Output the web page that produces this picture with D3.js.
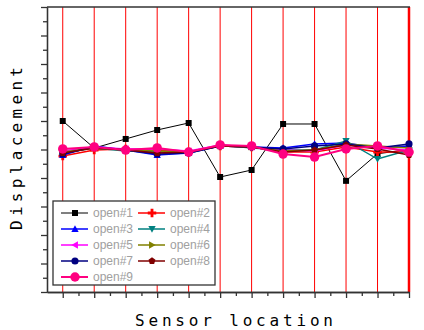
<!DOCTYPE html>
<html>
<head>
<meta charset="utf-8">
<script src="https://cdn.jsdelivr.net/npm/d3@7"></script>
<style>
  html, body { margin: 0; padding: 0; background: #fff; }
  svg { display: block; }
</style>
</head>
<body>
<div id="chart"></div>
<script>
// sensor positions along the x axis
var sensors = [1, 2, 3, 4, 5, 6, 7, 8, 9, 10, 11, 12];

// displacement per sensor, one list per opening
var open1 = [2.0, 0.1, 0.74, 1.37, 1.86, -1.93, -1.44, 1.79, 1.79, -2.2, -0.3, 0.0];
var open2 = [-0.46, -0.04, 0.04, -0.04, -0.18, 0.25, 0.18, -0.18, -0.18, 0.18, -0.18, -0.18];
var open3 = [-0.39, 0.25, -0.04, -0.39, -0.25, 0.25, 0.18, 0.11, 0.39, 0.46, 0.11, 0.25];
var open4 = [-0.25, 0.11, -0.11, -0.18, -0.25, 0.32, 0.11, -0.04, -0.04, 0.6, -0.67, -0.04];
var open5 = [-0.11, 0.18, 0.04, 0.04, -0.11, 0.32, 0.18, -0.04, -0.11, 0.32, 0.11, -0.04];
var open6 = [-0.18, 0.11, -0.04, -0.11, -0.18, 0.25, 0.18, -0.11, -0.04, 0.39, 0.25, 0.11];
var open7 = [-0.32, 0.18, -0.04, -0.32, -0.25, 0.25, 0.18, 0.04, 0.25, 0.39, 0.11, 0.39];
var open8 = [-0.25, 0.11, -0.04, -0.25, -0.18, 0.25, 0.18, -0.18, -0.04, 0.32, 0.04, -0.39];
var open9 = [0.04, 0.18, -0.04, 0.11, -0.18, 0.32, 0.25, -0.32, -0.53, 0.04, 0.25, -0.18];

var seriesNames = ['open#1', 'open#2', 'open#3', 'open#4', 'open#5', 'open#6', 'open#7', 'open#8', 'open#9'];
var seriesValues = [open1, open2, open3, open4, open5, open6, open7, open8, open9];

var styles = [
  { color: '#000000', shape: 'square', size: 36, width: 1 },
  { color: '#ff0000', shape: 'star', size: 40, width: 1.5 },
  { color: '#0000ff', shape: 'triUp', size: 40, width: 1.5 },
  { color: '#008080', shape: 'triDown', size: 40, width: 1.5 },
  { color: '#ff00ff', shape: 'triLeft', size: 40, width: 1.5 },
  { color: '#808000', shape: 'triRight', size: 40, width: 1.5 },
  { color: '#000080', shape: 'circle', size: 40, width: 1.5 },
  { color: '#800000', shape: 'pentagon', size: 40, width: 1.5 },
  { color: '#ff0080', shape: 'circle', size: 70, width: 2 }
];

(function() {
  var W = 424, H = 330;
  var plotLeft = 47, plotRight = 409, plotTop = 7, plotBottom = 292;

  var svg = d3.select('#chart').append('svg').attr('width', W).attr('height', H);

  var x = d3.scaleLinear().domain([0.5, 12]).range([plotLeft, plotRight]);
  var y = d3.scaleLinear().domain([-10, 10]).range([plotBottom, plotTop]);

  function markerPath(shape, size) {
    var r = Math.sqrt(size) / 2 + 0.5;
    var pts;
    if (shape === 'square') return d3.symbol(d3.symbolSquare, size)();
    if (shape === 'circle') return d3.symbol(d3.symbolCircle, size)();
    if (shape === 'star') return d3.symbol(d3.symbolCross, size)();
    if (shape === 'triUp') pts = [[0, -r], [r, r * 0.8], [-r, r * 0.8]];
    if (shape === 'triDown') pts = [[0, r], [r, -r * 0.8], [-r, -r * 0.8]];
    if (shape === 'triLeft') pts = [[-r, 0], [r * 0.8, -r], [r * 0.8, r]];
    if (shape === 'triRight') pts = [[r, 0], [-r * 0.8, -r], [-r * 0.8, r]];
    if (shape === 'pentagon') {
      pts = d3.range(5).map(function(i) {
        var a = -Math.PI / 2 + i * 2 * Math.PI / 5;
        return [r * Math.cos(a), r * Math.sin(a)];
      });
    }
    return 'M' + pts.map(function(p) { return p.join(','); }).join('L') + 'Z';
  }

  // red vertical guide lines at each sensor
  svg.append('g').selectAll('line').data(sensors).enter().append('line')
    .attr('x1', function(d) { return x(d); })
    .attr('x2', function(d) { return x(d); })
    .attr('y1', plotTop).attr('y2', plotBottom)
    .attr('stroke', '#ff0000')
    .attr('stroke-width', function(d) { return d === 12 ? 2.5 : 1; });

  // top frame line
  svg.append('line').attr('x1', plotLeft).attr('x2', plotRight + 1).attr('y1', plotTop).attr('y2', plotTop)
    .attr('stroke', '#333').attr('stroke-width', 1.5);

  // left axis: alternate long and short ticks, no labels
  var yMajor = d3.range(-10, 11, 2), yMinor = d3.range(-9, 10, 2);
  svg.append('g').attr('class', 'ax').attr('transform', 'translate(' + plotLeft + ',0)')
    .call(d3.axisLeft(y).tickValues(yMajor).tickSize(6).tickFormat('').tickSizeOuter(0));
  svg.append('g').attr('class', 'ax').attr('transform', 'translate(' + plotLeft + ',0)')
    .call(d3.axisLeft(y).tickValues(yMinor).tickSize(4).tickFormat('').tickSizeOuter(0));

  // bottom axis: major at sensors, minor between
  var xMinor = sensors.slice(0, 11).map(function(d) { return d + 0.5; });
  svg.append('g').attr('class', 'ax').attr('transform', 'translate(0,' + plotBottom + ')')
    .call(d3.axisBottom(x).tickValues(sensors).tickSize(6).tickFormat('').tickSizeOuter(0));
  svg.append('g').attr('class', 'ax').attr('transform', 'translate(0,' + plotBottom + ')')
    .call(d3.axisBottom(x).tickValues(xMinor).tickSize(4).tickFormat('').tickSizeOuter(0));
  svg.selectAll('.ax .domain, .ax .tick line').attr('stroke', '#333').attr('stroke-width', 1.3);

  // series
  var line = d3.line().x(function(d) { return x(d[0]); }).y(function(d) { return y(d[1]); });
  seriesValues.forEach(function(vals, i) {
    var st = styles[i];
    var pts = sensors.map(function(s, j) { return [s, vals[j]]; });
    var g = svg.append('g');
    g.append('path').attr('d', line(pts)).attr('fill', 'none')
      .attr('stroke', st.color).attr('stroke-width', st.width);
    g.selectAll('path.m').data(pts).enter().append('path').attr('class', 'm')
      .attr('transform', function(d) { return 'translate(' + x(d[0]) + ',' + y(d[1]) + ')'; })
      .attr('d', markerPath(st.shape, st.size))
      .attr('fill', st.color);
  });

  // legend
  var lg = svg.append('g');
  lg.append('rect').attr('x', 53).attr('y', 201).attr('width', 162).attr('height', 84)
    .attr('fill', '#fff').attr('stroke', '#333').attr('stroke-width', 1.3);
  seriesNames.forEach(function(name, i) {
    var col = i % 2, row = Math.floor(i / 2);
    var lx = col === 0 ? 61 : 138, ly = 213 + row * 16;
    var st = styles[i];
    lg.append('line').attr('x1', lx).attr('x2', lx + 27).attr('y1', ly).attr('y2', ly)
      .attr('stroke', st.color).attr('stroke-width', st.width);
    lg.append('path').attr('transform', 'translate(' + (lx + 14) + ',' + ly + ')')
      .attr('d', markerPath(st.shape, st.size)).attr('fill', st.color);
    lg.append('text').attr('x', lx + 32).attr('y', ly + 4)
      .attr('font-family', 'Liberation Sans, Arial, sans-serif').attr('font-size', 12)
      .attr('fill', '#a0a0a0').text(name);
  });

  // axis titles
  svg.append('text').attr('x', 135).attr('y', 326)
    .attr('textLength', 198).attr('lengthAdjust', 'spacing')
    .attr('font-family', 'DejaVu Sans Mono, monospace').attr('font-size', 16)
    .attr('fill', '#000').text('Sensor location');
  svg.append('text').attr('transform', 'translate(22,230) rotate(-90)')
    .attr('textLength', 163).attr('lengthAdjust', 'spacing')
    .attr('font-family', 'DejaVu Sans Mono, monospace').attr('font-size', 16)
    .attr('fill', '#000').text('Displacement');
})();
</script>
</body>
</html>
